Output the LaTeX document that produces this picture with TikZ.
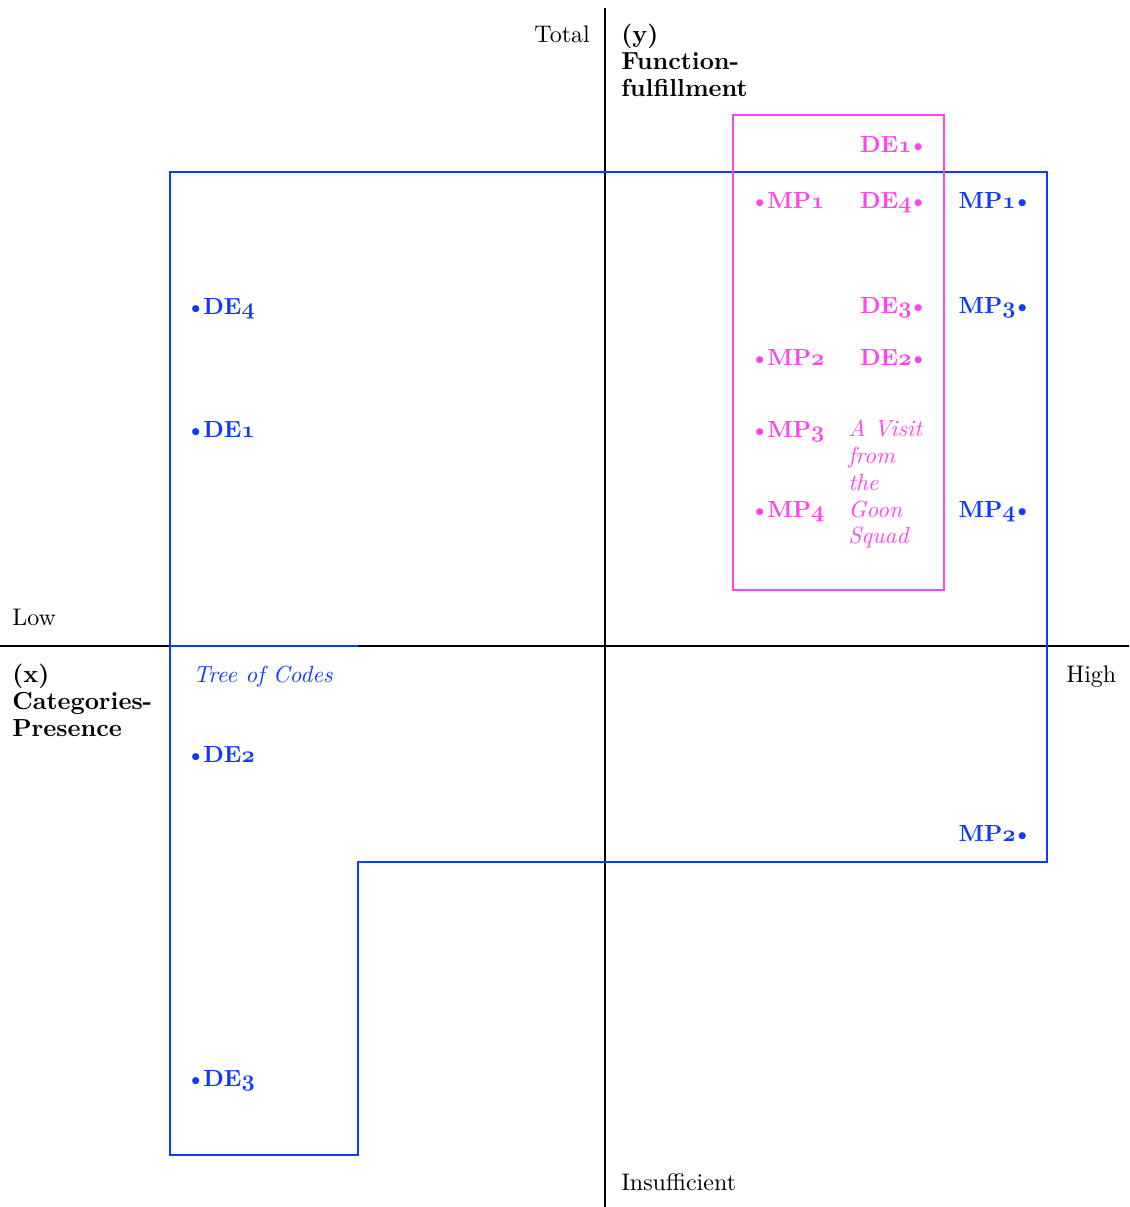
\documentclass[tikz,border=0pt]{standalone}
\usepackage{fontspec}
\setmainfont{lmroman10}[Extension=.otf, UprightFont=*-regular, BoldFont=*-bold, ItalicFont=*-italic, BoldItalicFont=*-bolditalic]
\usepackage{xcolor}
\definecolor{qblue}{RGB}{18,58,255}
\definecolor{qmag}{RGB}{255,70,236}
\newcommand{\osn}[1]{{\usefont{OML}{cmm}{b}{it}#1}}
\newcommand{\bulL}{\textbullet\kern-0.12em}
\newcommand{\bulR}{\kern-0.16em\textbullet}
\begin{document}
\begin{tikzpicture}[x=0.75pt,y=-0.75pt,
  every node/.style={inner sep=0pt, font=\fontsize{18}{20.25}\selectfont},
  lw/.style={anchor=base west},
  le/.style={anchor=base east},
  blk/.style={anchor=north west, align=left},
  axisline/.style={draw=black, line width=1.8pt},
  blueline/.style={draw=qblue, line width=1.6pt},
  magline/.style={draw=qmag, line width=1.8pt},
  bl/.style={text=qblue, font=\fontsize{17.5}{20.25}\selectfont\bfseries},
  mg/.style={text=qmag, font=\fontsize{17.5}{20.25}\selectfont\bfseries}]
\useasboundingbox (0,0) rectangle (1129,1207);

% axes
\coordinate (ytop) at (605,8);
\coordinate (ybot) at (605,1207);
\coordinate (xleft) at (0,646);
\coordinate (xright) at (1129,646);
\draw[axisline] (ytop) -- (ybot);
\draw[axisline] (xleft) -- (xright);

% blue region
\coordinate (b1) at (170,172);
\coordinate (b2) at (1047,172);
\coordinate (b3) at (1047,862);
\coordinate (b4) at (358,862);
\coordinate (b5) at (358,1155);
\coordinate (b6) at (170,1155);
\coordinate (bm1) at (170,646);
\coordinate (bm2) at (358,646);
\draw[blueline] (b1) -- (b2) -- (b3) -- (b4) -- (b5) -- (b6) -- cycle;
\draw[blueline] (bm1) -- (bm2);

% magenta region
\coordinate (m1) at (733,115);
\coordinate (m2) at (944,590);
\draw[magline] (m1) rectangle (m2);

% axis labels
\node[le] (total) at (590,42) {Total};
\node[blk,font=\fontsize{18.5}{20.25}\selectfont\bfseries] (ylab) at (621,23) {\strut(y)\\Function-\\fulfillment};
\node[lw] (low) at (12,625) {Low};
\node[blk,font=\fontsize{18.5}{20.25}\selectfont\bfseries] (xlab) at (12,663) {\strut(x)\\Categories-\\Presence};
\node[lw] (high) at (1066,682) {High};
\node[lw] (insuf) at (621,1190) {Insufficient};

% blue labels
\node[lw,bl] (bDE4) at (185,314) {\bulL DE\osn{4}};
\node[lw,bl] (bDE1) at (185,437) {\bulL DE\osn{1}};
\node[lw,text=qblue,font=\fontsize{17.5}{20.25}\selectfont\itshape] (tree) at (193,682) {Tree of Codes};
\node[lw,bl] (bDE2) at (185,762) {\bulL DE\osn{2}};
\node[lw,bl] (bDE3) at (185,1086) {\bulL DE\osn{3}};
\node[le,bl] (bMP1) at (1033,208) {MP\osn{1}\bulR};
\node[le,bl] (bMP3) at (1033,313) {MP\osn{3}\bulR};
\node[le,bl] (bMP4) at (1033,517) {MP\osn{4}\bulR};
\node[le,bl] (bMP2) at (1033,841) {MP\osn{2}\bulR};

% magenta labels
\node[le,mg] (mDE1) at (929,152) {DE\osn{1}\bulR};
\node[lw,mg] (mMP1) at (749,208) {\bulL MP\osn{1}};
\node[le,mg] (mDE4) at (929,208) {DE\osn{4}\bulR};
\node[le,mg] (mDE3) at (929,313) {DE\osn{3}\bulR};
\node[lw,mg] (mMP2) at (749,365) {\bulL MP\osn{2}};
\node[le,mg] (mDE2) at (929,365) {DE\osn{2}\bulR};
\node[lw,mg] (mMP3) at (749,437) {\bulL MP\osn{3}};
\node[lw,mg] (mMP4) at (749,517) {\bulL MP\osn{4}};
\node[blk,text=qmag,font=\fontsize{17.5}{20.06}\selectfont\itshape] (goon) at (848,418)
  {\strut A Visit\\from\\the\\Goon\\Squad};
\end{tikzpicture}
\end{document}
